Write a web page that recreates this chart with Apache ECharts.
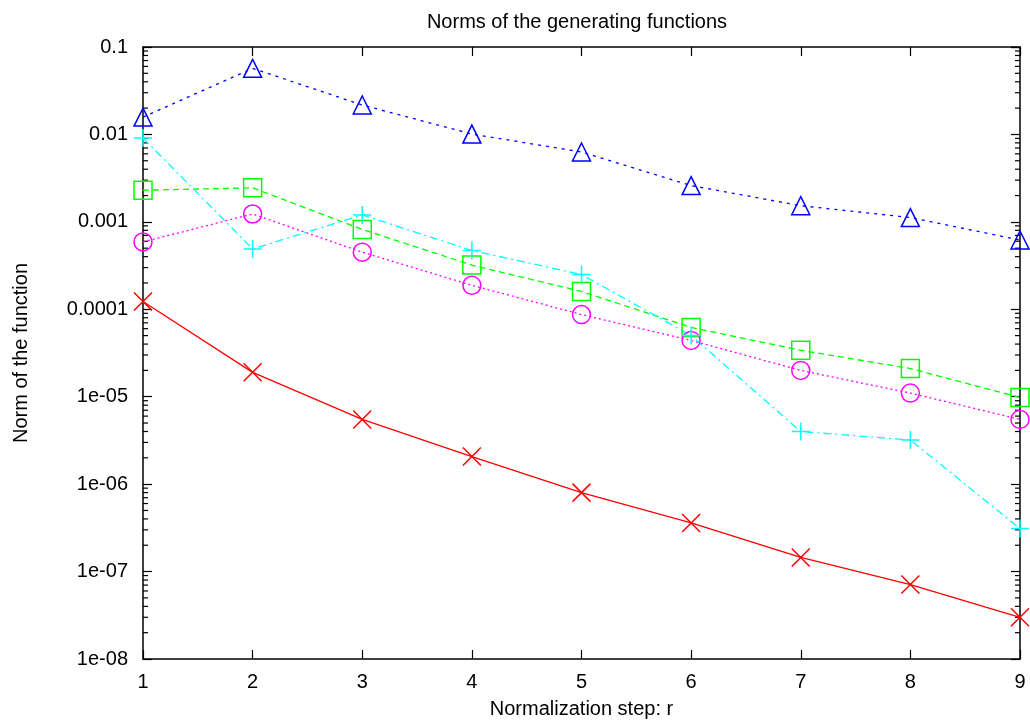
<!DOCTYPE html>
<html><head><meta charset="utf-8">
<script src="https://cdn.jsdelivr.net/npm/echarts@6/dist/echarts.min.js"></script>
<style>html,body{margin:0;padding:0;background:#fff}#c{width:1030px;height:727px}</style>
</head><body><div id="c"></div>
<script>
var steps = [1, 2, 3, 4, 5, 6, 7, 8, 9];
var redCross = [1.23e-4, 1.9e-5, 5.5e-6, 2.07e-6, 8.0e-7, 3.6e-7, 1.45e-7, 7.1e-8, 3.0e-8];
var greenSquare = [2.3e-3, 2.45e-3, 8.2e-4, 3.2e-4, 1.6e-4, 6.2e-5, 3.4e-5, 2.1e-5, 9.8e-6];
var blueTriangle = [1.58e-2, 5.7e-2, 2.17e-2, 1.01e-2, 6.3e-3, 2.6e-3, 1.53e-3, 1.12e-3, 6.2e-4];
var magentaCircle = [5.9e-4, 1.23e-3, 4.5e-4, 1.88e-4, 8.7e-5, 4.4e-5, 2.0e-5, 1.1e-5, 5.5e-6];
var cyanPlus = [9.1e-3, 4.9e-4, 1.2e-3, 4.7e-4, 2.5e-4, 5.0e-5, 4.0e-6, 3.2e-6, 3.1e-7];
var yTickLabels = {'-8':'1e-08','-7':'1e-07','-6':'1e-06','-5':'1e-05','-4':'0.0001','-3':'0.001','-2':'0.01','-1':'0.1'};
var title = 'Norms of the generating functions';
var xName = 'Normalization step: r';
var yName = 'Norm of the function';

var minorTicks = [];
for (var e = -8; e < -1; e++) for (var k = 2; k <= 9; k++) minorTicks.push([1, k * Math.pow(10, e)]);

function pairs(arr) { return steps.map(function (s, i) { return [s, arr[i]]; }); }

var FONT = 'Liberation Sans';
var FS = 20;
var PLUS = 'path://M0,5L10,5M5,0L5,10';
var CROSS = 'path://M0,0L10,10M10,0L0,10';

function mkSeries(name, data, color, symbol, size, dash) {
  return {
    name: name, type: 'line', data: pairs(data), symbol: symbol, symbolSize: size,
    showAllSymbol: true, animation: false, z: 3,
    lineStyle: { color: color, width: 1.3, type: dash },
    itemStyle: { color: 'rgba(0,0,0,0)', borderColor: color, borderWidth: 1.5 }
  };
}

var axisCommon = {
  axisLine: { show: true, lineStyle: { color: '#000', width: 1.5 } },
  axisTick: { show: true, inside: true, length: 9, lineStyle: { color: '#000', width: 1.2 } },
  splitLine: { show: false }
};

var chart = echarts.init(document.getElementById('c'), null, { renderer: 'canvas' });
chart.setOption({
  animation: false,
  backgroundColor: '#fff',
  title: {
    text: title, left: 572, top: 7, textAlign: 'center',
    textStyle: { fontFamily: FONT, fontSize: FS, fontWeight: 'normal', color: '#000' }
  },
  grid: { left: 143, right: 10, top: 47, bottom: 68, containLabel: false },
  xAxis: [
    Object.assign({
      type: 'value', min: 1, max: 9, interval: 1, position: 'bottom',
      name: xName, nameLocation: 'middle', nameGap: 40,
      nameTextStyle: { fontFamily: FONT, fontSize: FS, color: '#000' },
      axisLabel: { fontFamily: FONT, fontSize: FS, color: '#000', margin: 13 }
    }, axisCommon),
    Object.assign({
      type: 'value', min: 1, max: 9, interval: 1, position: 'top',
      axisLabel: { show: false }
    }, axisCommon)
  ],
  yAxis: [
    Object.assign({
      type: 'log', logBase: 10, min: 1e-8, max: 0.1, interval: 1, position: 'left',
      name: yName, nameLocation: 'middle', nameGap: 112, nameRotate: 90,
      nameTextStyle: { fontFamily: FONT, fontSize: FS, color: '#000' },
      axisLabel: {
        fontFamily: FONT, fontSize: FS, color: '#000', margin: 15,
        formatter: function (v) { var ex = Math.round(Math.log10(v)); return yTickLabels[String(ex)] || ''; }
      }
    }, axisCommon),
    Object.assign({
      type: 'log', logBase: 10, min: 1e-8, max: 0.1, interval: 1, position: 'right',
      axisLabel: { show: false }
    }, axisCommon)
  ],
  series: [
    {
      type: 'custom', coordinateSystem: 'cartesian2d', xAxisIndex: 0, yAxisIndex: 0,
      data: minorTicks, silent: true, z: 1, clip: false,
      renderItem: function (params, api) {
        var l = api.coord([1, api.value(1)]);
        var r = api.coord([9, api.value(1)]);
        var st = { stroke: '#000', lineWidth: 1.2 };
        return { type: 'group', children: [
          { type: 'line', shape: { x1: l[0], y1: l[1], x2: l[0] + 5, y2: l[1] }, style: st },
          { type: 'line', shape: { x1: r[0], y1: r[1], x2: r[0] - 5, y2: r[1] }, style: st }
        ] };
      }
    },
    mkSeries('red', redCross, '#ff0000', CROSS, 18, 'solid'),
    mkSeries('green', greenSquare, '#00ff00', 'rect', 18, [6, 4]),
    mkSeries('blue', blueTriangle, '#0000ff', 'triangle', 18, [3, 5]),
    mkSeries('magenta', magentaCircle, '#ff00ff', 'circle', 18, [2, 3]),
    mkSeries('cyan', cyanPlus, '#00ffff', PLUS, 18, [8, 4, 2, 4])
  ]
});
</script></body></html>
